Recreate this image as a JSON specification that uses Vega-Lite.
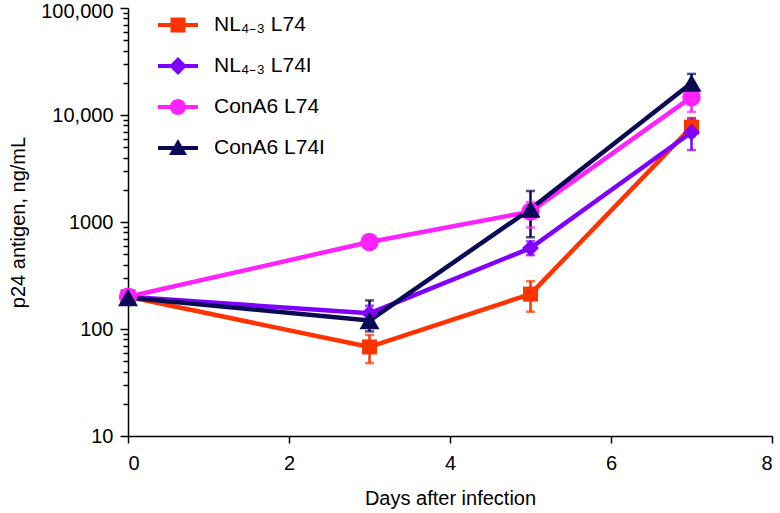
{
  "$schema": "https://vega.github.io/schema/vega-lite/v6.json",
  "width": 644,
  "height": 428,
  "autosize": "none",
  "padding": {"left": 128, "top": 8, "right": 8, "bottom": 77},
  "background": "white",
  "config": {
    "view": {"stroke": null},
    "font": "Liberation Sans",
    "axis": {"labelFont": "Liberation Sans", "titleFont": "Liberation Sans", "labelColor": "black", "titleColor": "black", "domainColor": "black", "tickColor": "black", "titleFontWeight": "normal", "grid": false}
  },
  "datasets": {
    "pts": [
      {"series": "NL₄₋₃ L74", "day": 0, "p24": 200, "lo": 200, "hi": 200},
      {"series": "NL₄₋₃ L74", "day": 3, "p24": 68, "lo": 48, "hi": 88},
      {"series": "NL₄₋₃ L74", "day": 5, "p24": 212, "lo": 145, "hi": 280},
      {"series": "NL₄₋₃ L74", "day": 7, "p24": 7700, "lo": 6300, "hi": 9400},
      {"series": "NL₄₋₃ L74I", "day": 0, "p24": 200, "lo": 200, "hi": 200},
      {"series": "NL₄₋₃ L74I", "day": 3, "p24": 140, "lo": 120, "hi": 165},
      {"series": "NL₄₋₃ L74I", "day": 5, "p24": 570, "lo": 490, "hi": 660},
      {"series": "NL₄₋₃ L74I", "day": 7, "p24": 6900, "lo": 4700, "hi": 9200},
      {"series": "ConA6 L74", "day": 0, "p24": 200, "lo": 200, "hi": 200},
      {"series": "ConA6 L74", "day": 3, "p24": 650, "lo": 580, "hi": 730},
      {"series": "ConA6 L74", "day": 5, "p24": 1250, "lo": 890, "hi": 1540},
      {"series": "ConA6 L74", "day": 7, "p24": 14700, "lo": 10700, "hi": 18500},
      {"series": "ConA6 L74I", "day": 0, "p24": 197, "lo": 197, "hi": 197},
      {"series": "ConA6 L74I", "day": 3, "p24": 120, "lo": 95, "hi": 185},
      {"series": "ConA6 L74I", "day": 5, "p24": 1320, "lo": 720, "hi": 1950},
      {"series": "ConA6 L74I", "day": 7, "p24": 19900, "lo": 16500, "hi": 24200}
    ]
  },
  "data": {"name": "pts"},
  "layer": [
    {
      "mark": {"type": "rule", "strokeWidth": 2.5},
      "encoding": {
        "x": {"field": "day", "type": "quantitative"},
        "y": {"field": "lo", "type": "quantitative"},
        "y2": {"field": "hi"},
        "color": {"field": "series", "type": "nominal", "legend": null}
      }
    },
    {
      "mark": {"type": "tick", "orient": "horizontal", "size": 9, "thickness": 2.5},
      "encoding": {
        "x": {"field": "day", "type": "quantitative"},
        "y": {"field": "lo", "type": "quantitative"},
        "color": {"field": "series", "type": "nominal", "legend": null}
      }
    },
    {
      "mark": {"type": "tick", "orient": "horizontal", "size": 9, "thickness": 2.5},
      "encoding": {
        "x": {"field": "day", "type": "quantitative"},
        "y": {"field": "hi", "type": "quantitative"},
        "color": {"field": "series", "type": "nominal", "legend": null}
      }
    },
    {
      "mark": {"type": "line", "strokeWidth": 4.5, "strokeJoin": "round"},
      "encoding": {
        "x": {"field": "day", "type": "quantitative"},
        "y": {"field": "p24", "type": "quantitative"},
        "color": {"field": "series", "type": "nominal", "legend": null},
        "order": {"field": "day"}
      }
    },
    {
      "mark": {"type": "point", "filled": true, "opacity": 1},
      "encoding": {
        "x": {"field": "day", "type": "quantitative"},
        "y": {"field": "p24", "type": "quantitative"},
        "color": {"field": "series", "type": "nominal", "legend": null},
        "shape": {"field": "series", "type": "nominal", "legend": null,
          "scale": {"domain": ["NL₄₋₃ L74", "NL₄₋₃ L74I", "ConA6 L74", "ConA6 L74I"], "range": ["square", "diamond", "circle", "triangle-up"]}},
        "size": {"field": "series", "type": "nominal", "legend": null,
          "scale": {"domain": ["NL₄₋₃ L74", "NL₄₋₃ L74I", "ConA6 L74", "ConA6 L74I"], "range": [225, 400, 240, 260]}}
      }
    },
    {
      "transform": [{"filter": "false"}],
      "mark": {"type": "point", "filled": true, "opacity": 1},
      "encoding": {
        "x": {"field": "day", "type": "quantitative"},
        "y": {"field": "p24", "type": "quantitative"},
        "color": {"field": "series", "type": "nominal",
          "scale": {"domain": ["NL₄₋₃ L74", "NL₄₋₃ L74I", "ConA6 L74", "ConA6 L74I"], "range": ["#FF3300", "#8000FF", "#FF22FF", "#0A0A55"]},
          "legend": {"orient": "none", "legendX": 30, "legendY": -3, "title": null, "symbolSize": 1600, "labelFontSize": 21, "labelFont": "Liberation Sans", "labelColor": "black", "labelOffset": 16, "rowPadding": 11, "symbolStrokeWidth": 0}},
        "shape": {"field": "series", "type": "nominal",
          "scale": {"domain": ["NL₄₋₃ L74", "NL₄₋₃ L74I", "ConA6 L74", "ConA6 L74I"],
            "range": [
              "M-1,-0.1H1V0.1H-1Z M-0.375,-0.375H0.375V0.375H-0.375Z",
              "M-1,-0.1H1V0.1H-1Z M0,-0.45L0.45,0L0,0.45L-0.45,0Z",
              "M-1,-0.1H1V0.1H-1Z M-0.4,0A0.4,0.4 0 1,1 0.4,0A0.4,0.4 0 1,1 -0.4,0Z",
              "M-1,-0.1H1V0.1H-1Z M0,-0.45L0.45,0.35L-0.45,0.35Z"
            ]},
          "legend": {"orient": "none", "legendX": 30, "legendY": -3, "title": null, "symbolSize": 1600, "labelFontSize": 21, "labelFont": "Liberation Sans", "labelColor": "black", "labelOffset": 16, "rowPadding": 11, "symbolStrokeWidth": 0}}
      }
    }
  ],
  "resolve": {"scale": {"shape": "independent", "size": "independent"}, "legend": {"shape": "independent", "color": "independent"}},
  "encoding": {
    "x": {"field": "day", "type": "quantitative",
      "scale": {"domain": [0, 8], "nice": false, "zero": false},
      "axis": {"title": "Days after infection", "values": [0, 2, 4, 6, 8], "labelFontSize": 20, "titleFontSize": 20, "tickSize": 7, "domainWidth": 1.5, "tickWidth": 1.5, "labelPadding": 10, "titlePadding": 15}},
    "y": {"field": "p24", "type": "quantitative",
      "scale": {"type": "log", "domain": [10, 100000], "nice": false},
      "axis": {"title": "p24 antigen, ng/mL", "labelFontSize": 20, "titleFontSize": 20, "domainWidth": 1.5, "tickWidth": 1.5,
        "values": [10,20,30,40,50,60,70,80,90,100,200,300,400,500,600,700,800,900,1000,2000,3000,4000,5000,6000,7000,8000,9000,10000,20000,30000,40000,50000,60000,70000,80000,90000,100000],
        "tickSize": {"condition": {"test": "indexof([10,100,1000,10000,100000], datum.value) >= 0", "value": 8}, "value": 5},
        "labelOffset": {"condition": {"test": "datum.value == 100000", "value": 3}, "value": 0},
        "labelExpr": "datum.value == 100000 ? '100,000' : datum.value == 10000 ? '10,000' : indexof([10,100,1000], datum.value) >= 0 ? format(datum.value, 'd') : ''",
        "labelPadding": 7, "titlePadding": 12}}
  }
}
